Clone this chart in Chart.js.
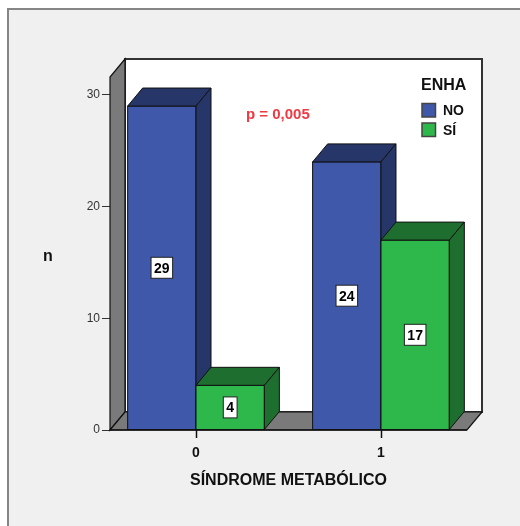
<!DOCTYPE html>
<html>
<head>
<meta charset="utf-8">
<script src="https://cdn.jsdelivr.net/npm/chart.js@4.4.0/dist/chart.umd.min.js"></script>
<style>
  body { margin: 0; background: #fff; }
</style>
</head>
<body>
<canvas id="chart" width="520" height="526"></canvas>
<script>
// data
var categories = [0, 1];
var seriesNames = ['NO', 'SÍ'];
var seriesNo = [29, 24];
var seriesSi = [4, 17];
var yTicks = [0, 10, 20, 30];
var legendTitle = 'ENHA';
var xTitle = 'SÍNDROME METABÓLICO';
var yTitle = 'n';
var note = 'p = 0,005';

var FONT = '"Liberation Sans", Arial, sans-serif';
var DX = 15, DY = 18;   // depth of the 3d effect
var fronts = ['#3f58a9', '#2eb84b'];
var darks = ['#263668', '#1d6e2f'];

function poly(ctx, pts, fill) {
  ctx.beginPath();
  ctx.moveTo(pts[0][0], pts[0][1]);
  for (var i = 1; i < pts.length; i++) ctx.lineTo(pts[i][0], pts[i][1]);
  ctx.closePath();
  ctx.fillStyle = fill;
  ctx.fill();
  ctx.stroke();
}

var box3d = {
  id: 'box3d',
  beforeDraw: function (chart) {
    var ctx = chart.ctx;
    ctx.save();
    ctx.fillStyle = '#fff';
    ctx.fillRect(0, 0, chart.width, chart.height);
    ctx.fillStyle = '#f0f0f0';
    ctx.fillRect(8, 9, chart.width, chart.height);
    ctx.strokeStyle = '#858585';
    ctx.lineWidth = 2;
    ctx.strokeRect(8, 9, chart.width + 10, chart.height + 10);
    ctx.restore();
  },
  beforeDatasetsDraw: function (chart) {
    var ctx = chart.ctx, a = chart.chartArea;
    ctx.save();
    // back wall
    ctx.fillStyle = '#fff';
    ctx.fillRect(a.left + DX, a.top - DY, a.right - a.left, a.bottom - a.top);
    ctx.strokeStyle = '#333';
    ctx.lineWidth = 2;
    ctx.strokeRect(a.left + DX, a.top - DY, a.right - a.left, a.bottom - a.top);
    ctx.strokeStyle = '#111';
    ctx.lineWidth = 1.2;
    // left wall
    poly(ctx, [[a.left, a.bottom], [a.left, a.top], [a.left + DX, a.top - DY], [a.left + DX, a.bottom - DY]], '#7a7a7a');
    // floor
    poly(ctx, [[a.left, a.bottom], [a.left + DX, a.bottom - DY], [a.right + DX, a.bottom - DY], [a.right, a.bottom]], '#7a7a7a');
    ctx.restore();
  },
  afterDatasetsDraw: function (chart) {
    var ctx = chart.ctx;
    var bars = [];
    chart.data.datasets.forEach(function (ds, di) {
      chart.getDatasetMeta(di).data.forEach(function (el, i) {
        bars.push({ el: el, di: di, v: ds.data[i].y });
      });
    });
    bars.sort(function (p, q) { return p.el.x - q.el.x; });
    ctx.save();
    ctx.strokeStyle = '#111';
    ctx.lineWidth = 1;
    bars.forEach(function (b) {
      var el = b.el, x0 = el.x - el.width / 2, x1 = el.x + el.width / 2;
      var top = el.y, bot = el.base;
      poly(ctx, [[x0, bot], [x0, top], [x1, top], [x1, bot]], fronts[b.di]);
      poly(ctx, [[x0, top], [x0 + DX, top - DY], [x1 + DX, top - DY], [x1, top]], darks[b.di]);
      poly(ctx, [[x1, top], [x1 + DX, top - DY], [x1 + DX, bot - DY], [x1, bot]], darks[b.di]);
    });
    // value labels
    ctx.font = 'bold 14px ' + FONT;
    ctx.textAlign = 'center';
    ctx.textBaseline = 'middle';
    bars.forEach(function (b) {
      var el = b.el, cy = (el.y + el.base) / 2;
      var txt = String(b.v);
      var w = ctx.measureText(txt).width + 6, h = 21;
      ctx.fillStyle = '#fff';
      ctx.fillRect(el.x - w / 2, cy - h / 2, w, h);
      ctx.strokeStyle = '#222';
      ctx.strokeRect(el.x - w / 2, cy - h / 2, w, h);
      ctx.fillStyle = '#000';
      ctx.fillText(txt, el.x, cy + 1);
    });
    // front axis line + category ticks
    var a = chart.chartArea, xs = chart.scales.x;
    ctx.strokeStyle = '#111';
    ctx.lineWidth = 1.5;
    ctx.beginPath();
    ctx.moveTo(a.left, a.bottom);
    ctx.lineTo(a.right, a.bottom);
    categories.forEach(function (c) {
      var px = Math.round(xs.getPixelForValue(c)) + 0.5;
      ctx.moveTo(px, a.bottom);
      ctx.lineTo(px, a.bottom + 8);
    });
    ctx.stroke();
    ctx.restore();
  },
  afterDraw: function (chart) {
    var ctx = chart.ctx;
    ctx.save();
    // y title
    ctx.fillStyle = '#111';
    ctx.font = 'bold 16px ' + FONT;
    ctx.textAlign = 'center';
    ctx.textBaseline = 'middle';
    ctx.fillText(yTitle, 48, 257);
    // p value
    ctx.fillStyle = '#ee3a43';
    ctx.font = 'bold 15px ' + FONT;
    ctx.textAlign = 'left';
    ctx.fillText(note, 246, 115);
    // legend
    ctx.fillStyle = '#111';
    ctx.font = 'bold 16px ' + FONT;
    ctx.fillText(legendTitle, 421, 86);
    ctx.font = 'bold 14px ' + FONT;
    ctx.strokeStyle = '#444';
    ctx.lineWidth = 1.5;
    chart.data.datasets.forEach(function (ds, i) {
      var y = 103.5 + i * 19.5;
      ctx.fillStyle = fronts[i];
      ctx.fillRect(422, y, 13.5, 13.5);
      ctx.strokeRect(422, y, 13.5, 13.5);
      ctx.fillStyle = '#111';
      ctx.fillText(ds.label, 443, y + 8);
    });
    ctx.restore();
  }
};

var ctx = document.getElementById('chart');
var chart = new Chart(ctx, {
  type: 'bar',
  data: {
    datasets: [
      { label: seriesNames[0], data: seriesNo.map(function (v, i) { return { x: categories[i], y: v }; }), backgroundColor: fronts[0] },
      { label: seriesNames[1], data: seriesSi.map(function (v, i) { return { x: categories[i], y: v }; }), backgroundColor: fronts[1] }
    ]
  },
  options: {
    responsive: false,
    animation: false,
    layout: { padding: { left: 0, right: 53, top: 77, bottom: 0 } },
    datasets: { bar: { categoryPercentage: 0.739, barPercentage: 1 } },
    plugins: { legend: { display: false }, tooltip: { enabled: false } },
    scales: {
      x: {
        type: 'linear',
        offset: false,
        min: -0.465,
        max: 1.465,
        afterFit: function (s) { s.height = 96; },
        afterBuildTicks: function (s) { s.ticks = categories.map(function (c) { return { value: c }; }); },
        grid: { offset: false, drawOnChartArea: false, drawTicks: true, tickLength: 8, color: 'rgba(0,0,0,0)' },
        border: { display: false },
        ticks: { color: '#111', padding: 7, font: { family: FONT, size: 14, weight: 'bold' } },
        title: {
          display: true, text: xTitle, color: '#111',
          font: { family: FONT, size: 16, weight: 'bold' },
          padding: { top: 0, bottom: 36 }
        }
      },
      y: {
        min: 0,
        max: 31.6,
        afterFit: function (s) { s.width = 110; },
        afterBuildTicks: function (s) { s.ticks = yTicks.map(function (v) { return { value: v }; }); },
        grid: { drawOnChartArea: false, tickLength: 8, color: '#333' },
        border: { display: false },
        ticks: { color: '#333', padding: 2, font: { family: FONT, size: 12 } }
      }
    }
  },
  plugins: [box3d]
});
</script>
</body>
</html>
